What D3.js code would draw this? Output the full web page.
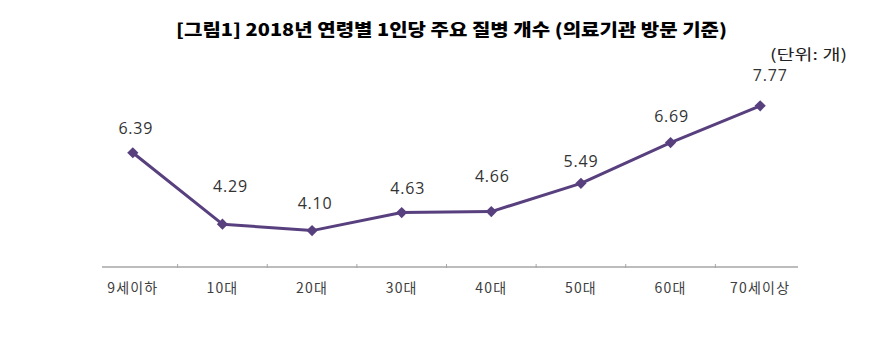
<!DOCTYPE html>
<html><head><meta charset="utf-8">
<script src="https://cdn.jsdelivr.net/npm/d3@7"></script>
<style>
html,body{margin:0;padding:0;background:#fff;}
svg{display:block;}
</style></head>
<body>
<svg id="chart" width="889" height="339"></svg>
<script>
const categories = ["9세이하","10대","20대","30대","40대","50대","60대","70세이상"];
const values = [6.39, 4.29, 4.10, 4.63, 4.66, 5.49, 6.69, 7.77];
const valueLabels = ["6.39","4.29","4.10","4.63","4.66","5.49","6.69","7.77"];
const titleText = "[그림1] 2018년 연령별 1인당 주요 질병 개수 (의료기관 방문 기준)";
const unitText = "(단위: 개)";
const yDomain = [3, 8];
// label nudges (layout only), [dx, dy] relative to point
const labelNudge = [[3,-19],[8,-32],[3,-22],[6,-19],[1,-30],[0,-16],[1,-21],[10,-25]];

const svg = d3.select("#chart");
const lineColor = "#58407f";

const x = d3.scaleBand().domain(categories).range([88, 805]).padding(0);
const y = d3.scaleLinear().domain(yDomain).range([268, 98]);
const cx = d => x(d) + x.bandwidth()/2;

// title
svg.append("text")
  .attr("x", 176).attr("y", 36)
  .attr("textLength", 551).attr("lengthAdjust", "spacingAndGlyphs")
  .style("font-family", "'Noto Sans CJK KR', sans-serif")
  .style("font-weight", "900").style("font-size", "17px").attr("fill", "#000")
  .text(titleText);

svg.append("text")
  .attr("x", 770).attr("y", 60)
  .attr("textLength", 77).attr("lengthAdjust", "spacingAndGlyphs")
  .style("font-family", "'Noto Sans CJK KR', sans-serif")
  .style("font-size", "15px").attr("fill", "#222")
  .text(unitText);

// x axis
const axisY = 267;
const axisG = svg.append("g").attr("transform", `translate(0,${axisY})`);
axisG.append("line").attr("x1", 102).attr("x2", 798).attr("y1", 0).attr("y2", 0)
  .attr("stroke", "#a6a6a6").attr("stroke-width", 1.5);
axisG.selectAll("line.tick").data(categories.slice(1)).enter().append("line")
  .attr("class","tick")
  .attr("x1", d => x(d)).attr("x2", d => x(d))
  .attr("y1", -3).attr("y2", 1).attr("stroke", "#a6a6a6").attr("stroke-width", 1);
axisG.selectAll("text").data(categories).enter().append("text")
  .attr("x", d => cx(d)).attr("y", 26)
  .attr("text-anchor", "middle")
  .style("font-family", "'Noto Sans CJK KR', sans-serif")
  .style("font-size", "14px").style("letter-spacing", "1.2px").attr("fill", "#404040")
  .text(d => d);

// line
const data = categories.map((c,i) => ({c, v: values[i], l: valueLabels[i], n: labelNudge[i]}));
svg.append("path").datum(data)
  .attr("d", d3.line().x(d => cx(d.c)).y(d => y(d.v)))
  .attr("fill", "none").attr("stroke", lineColor).attr("stroke-width", 3)
  .attr("stroke-linejoin", "round");

svg.selectAll("path.marker").data(data).enter().append("path")
  .attr("class", "marker")
  .attr("d", d3.symbol().type(d3.symbolDiamond2).size(80))
  .attr("transform", d => `translate(${cx(d.c)},${y(d.v)})`)
  .attr("fill", lineColor);

svg.selectAll("text.lbl").data(data).enter().append("text")
  .attr("class", "lbl")
  .attr("x", d => cx(d.c) + d.n[0]).attr("y", d => y(d.v) + d.n[1])
  .attr("text-anchor", "middle")
  .style("font-family", "'Open Sans', sans-serif")
  .style("font-size", "16px").style("letter-spacing", "0.8px").attr("fill", "#333")
  .text(d => d.l);
</script>
</body></html>
